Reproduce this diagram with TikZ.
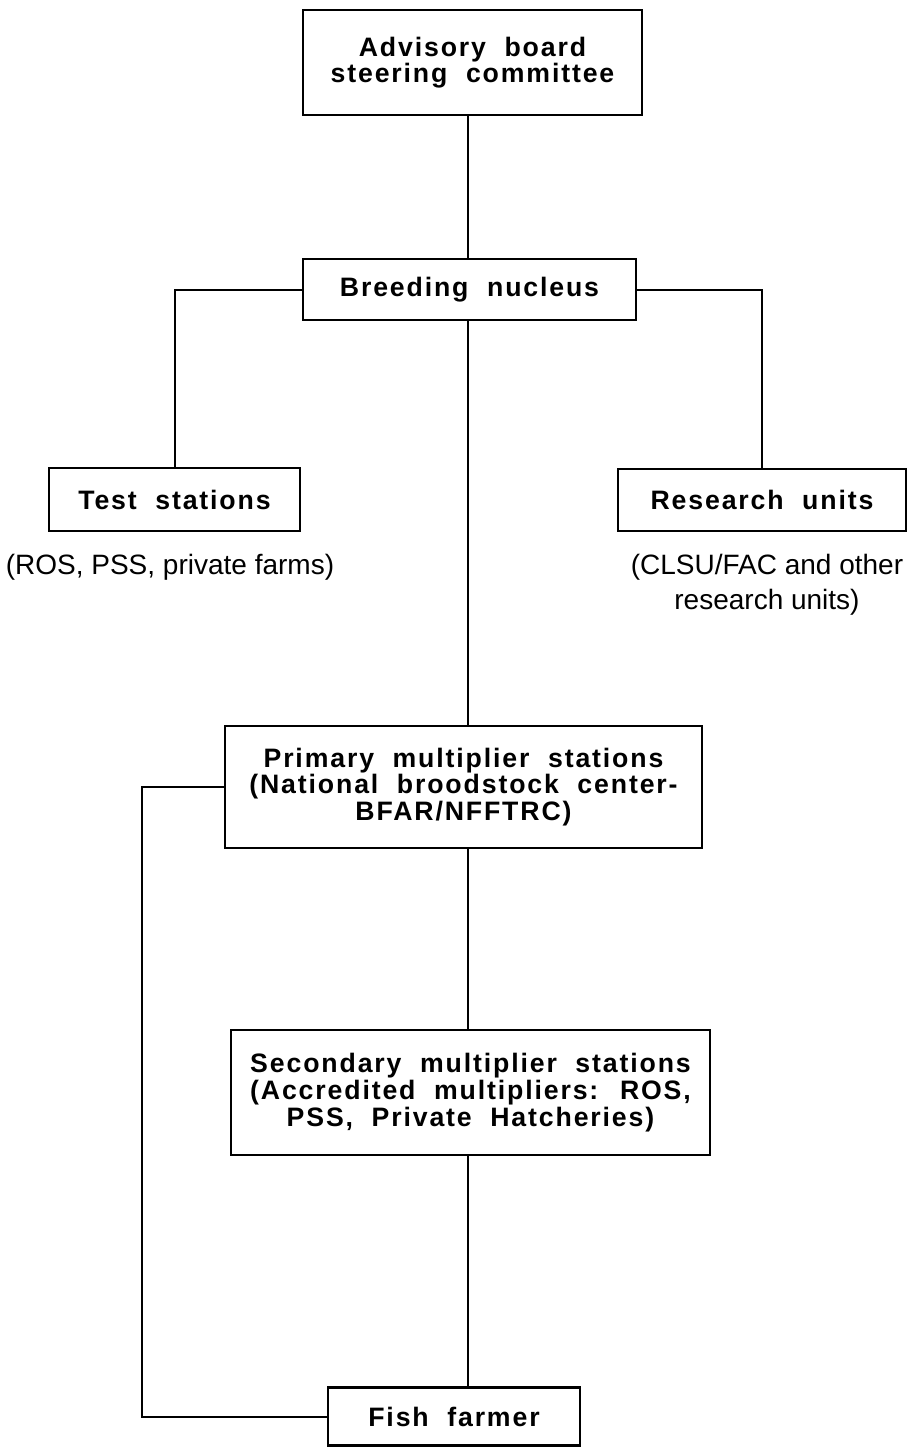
\documentclass[tikz,border=0pt]{standalone}
\usepackage{fontspec}
\newfontfamily\boxfont{Liberation Sans}[LetterSpace=7,WordSpace=2]
\newfontfamily\notefont{Liberation Sans}
\begin{document}
\begin{tikzpicture}[x=0.75pt,y=-0.75pt,
  unit/.style={draw,line width=2pt,rectangle,inner sep=0pt,align=center,
    font=\boxfont\bfseries\fontsize{20}{20}\selectfont},
  note/.style={inner sep=0pt,align=center,
    font=\notefont\fontsize{21}{26}\selectfont},
  link/.style={line width=1.5pt}]
  \useasboundingbox (0,0) rectangle (911,1448);

  % hierarchy boxes
  \node[unit,minimum width=339*0.75pt,minimum height=105*0.75pt] (adv) at (472.5,62.5)
    {Advisory board\\steering committee};
  \node[unit,minimum width=333*0.75pt,minimum height=61*0.75pt] (breed) at (469.5,289.5)
    {Breeding nucleus};
  \node[unit,minimum width=251*0.75pt,minimum height=63*0.75pt] (test) at (174.5,499.5)
    {Test stations};
  \node[unit,minimum width=288*0.75pt,minimum height=62*0.75pt] (res) at (762,500)
    {Research units};
  \node[unit,minimum width=477*0.75pt,minimum height=122*0.75pt] (prim) at (463.5,787)
    {Primary multiplier stations\\(National broodstock center-\\BFAR/NFFTRC)};
  \node[unit,minimum width=479*0.75pt,minimum height=125*0.75pt] (sec) at (470.5,1092.5)
    {Secondary multiplier stations\\(Accredited multipliers: ROS,\\PSS, Private Hatcheries)};
  \node[unit,minimum width=252*0.75pt,minimum height=58*0.75pt] (fish) at (454,1416.5)
    {Fish farmer};

  % notes under the side boxes
  \node[note] (testnote) at (170,567) {(ROS, PSS, private farms)};
  \node[note] (resnote) at (767,585) {(CLSU/FAC and other\\research units)};

  % guide coordinates for the connectors
  \coordinate (spine) at (468,0);
  \coordinate (loop) at (142,0);

  % central trunk
  \draw[link] (adv.south -| spine) -- (breed.north -| spine);
  \draw[link] (breed.south -| spine) -- (prim.north -| spine);
  \draw[link] (prim.south -| spine) -- (sec.north -| spine);
  \draw[link] (sec.south -| spine) -- (fish.north -| spine);

  % side branches
  \draw[link] (breed.west) -| (test.north);
  \draw[link] (breed.east) -| (res.north);
  \draw[link] (prim.west) -- (prim.west -| loop) |- (fish.west);
\end{tikzpicture}
\end{document}
